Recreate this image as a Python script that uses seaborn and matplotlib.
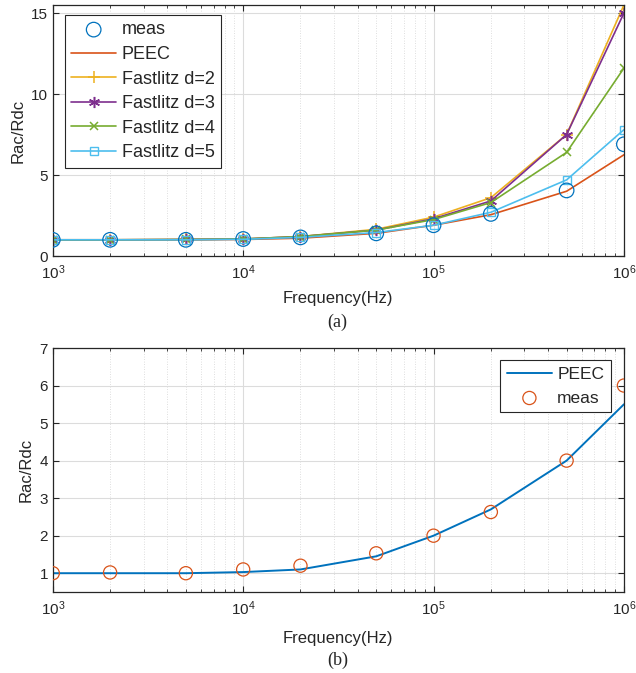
import matplotlib
matplotlib.use("Agg")
import matplotlib.pyplot as plt
import seaborn as sns
import numpy as np

# data
freq = [1e3, 2e3, 5e3, 1e4, 2e4, 5e4, 1e5, 2e5, 5e5, 1e6]

# (a)
meas_a = [1.0, 1.0, 1.0, 1.05, 1.15, 1.4, 1.9, 2.6, 4.05, 6.9]
peec_a = [1.0, 1.0, 1.0, 1.02, 1.1, 1.4, 1.9, 2.55, 4.0, 6.25]
fl_d2 = [1.0, 1.0, 1.02, 1.05, 1.2, 1.65, 2.4, 3.6, 7.5, 15.5]
fl_d3 = [1.0, 1.0, 1.02, 1.05, 1.2, 1.6, 2.3, 3.4, 7.5, 15.0]
fl_d4 = [1.0, 1.0, 1.02, 1.05, 1.2, 1.6, 2.25, 3.3, 6.4, 11.6]
fl_d5 = [1.0, 1.0, 1.0, 1.03, 1.15, 1.45, 1.9, 2.7, 4.7, 7.8]

# (b)
peec_b = [1.0, 1.0, 1.0, 1.03, 1.1, 1.45, 2.0, 2.7, 4.0, 5.5]
meas_b = [1.0, 1.02, 1.0, 1.1, 1.2, 1.53, 2.0, 2.63, 4.0, 6.0]

# matlab default colours
c1, c2, c3, c4, c5, c6 = "#0072BD", "#D95319", "#EDB120", "#7E2F8E", "#77AC30", "#4DBEEE"

sns.set_style("ticks")
plt.rcParams['font.family'] = ['Liberation Sans', 'DejaVu Sans']

fig = plt.figure(figsize=(6.36, 6.73), dpi=100)
ax1 = fig.add_axes([0.083, 0.6196, 0.898, 0.373])
ax2 = fig.add_axes([0.083, 0.1204, 0.898, 0.3625])

# ---- (a)
sns.scatterplot(x=freq, y=meas_a, ax=ax1, marker='o', s=110, facecolors='none',
                edgecolor=c1, linewidth=0.9, label='meas', zorder=3)
sns.lineplot(x=freq, y=peec_a, ax=ax1, color=c2, lw=1.2, label='PEEC')
sns.lineplot(x=freq, y=fl_d2, ax=ax1, color=c3, lw=1.2, marker='+', ms=9,
             mew=1.1, mec=c3, label='Fastlitz d=2')
sns.lineplot(x=freq, y=fl_d3, ax=ax1, color=c4, lw=1.2, marker=(6, 2, 0), ms=8,
             mew=1.1, mec=c4, label='Fastlitz d=3')
sns.lineplot(x=freq, y=fl_d4, ax=ax1, color=c5, lw=1.2, marker='x', ms=6,
             mew=1.1, mec=c5, label='Fastlitz d=4')
sns.lineplot(x=freq, y=fl_d5, ax=ax1, color=c6, lw=1.2, marker='s', ms=6,
             mfc='none', mec=c6, mew=1.0, label='Fastlitz d=5')
ax1.set_ylim(0, 15.5)
ax1.set_yticks([0, 5, 10, 15])

# ---- (b)
sns.lineplot(x=freq, y=peec_b, ax=ax2, color=c1, lw=1.4, label='PEEC')
sns.scatterplot(x=freq, y=meas_b, ax=ax2, marker='o', s=90, facecolors='none',
                edgecolor=c2, linewidth=0.9, label='meas', zorder=3)
ax2.set_ylim(0.5, 7)
ax2.set_yticks([1, 2, 3, 4, 5, 6, 7])

for ax, lp in ((ax1, 7), (ax2, 10)):
    ax.set_xscale('log')
    ax.set_xlim(1e3, 1e6)
    ax.set_xticks([1e3, 1e4, 1e5, 1e6])
    ax.grid(True, which='major', color='#dcdcdc', lw=0.8)
    ax.grid(True, which='minor', color='#d4d4d4', lw=0.6, ls=(0, (1, 2)))
    ax.set_axisbelow(True)
    ax.tick_params(which='both', direction='in', top=True, right=True,
                   labelsize=11, colors='#262626', length=4)
    ax.tick_params(axis='x', which='major', pad=5)
    ax.tick_params(which='minor', length=2.5)
    for sp in ax.spines.values():
        sp.set_visible(True)
        sp.set_color('#262626')
        sp.set_linewidth(0.9)
    ax.set_xlabel('Frequency(Hz)', fontsize=12, color='#262626', labelpad=lp)
    ax.set_ylabel('Rac/Rdc', fontsize=12, color='#262626', labelpad=4)

leg1 = ax1.legend(loc='upper left', fontsize=13, frameon=True, fancybox=False,
                  edgecolor='#262626', framealpha=1, handlelength=2.5,
                  borderpad=0.35, labelspacing=0.42, handletextpad=0.3,
                  borderaxespad=0, bbox_to_anchor=(0.021, 0.96))
leg1.get_frame().set_linewidth(0.8)
leg2 = ax2.legend(loc='upper right', fontsize=12.5, frameon=True, fancybox=False,
                  edgecolor='#262626', framealpha=1, handlelength=2.6,
                  borderpad=0.38, labelspacing=0.5, handletextpad=0.3,
                  borderaxespad=0, bbox_to_anchor=(0.977, 0.951))
leg2.get_frame().set_linewidth(0.8)

fig.text(0.531, 0.521, '(a)', ha='center', va='center', fontsize=13,
         family=['Liberation Serif', 'DejaVu Serif'])
fig.text(0.531, 0.019, '(b)', ha='center', va='center', fontsize=13,
         family=['Liberation Serif', 'DejaVu Serif'])

fig.savefig('out.png', dpi=100)
